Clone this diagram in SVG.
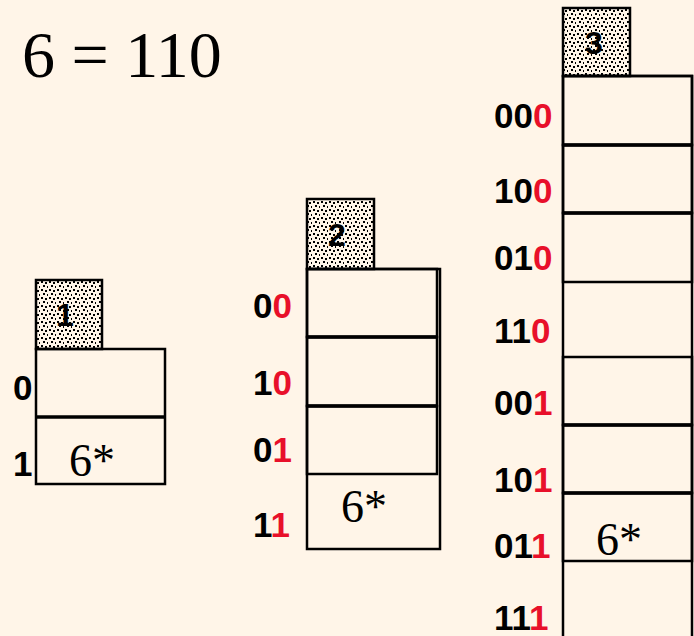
<svg xmlns="http://www.w3.org/2000/svg" width="694" height="636" viewBox="0 0 694 636">
<defs>
<pattern id="dots" width="8" height="8" patternUnits="userSpaceOnUse">
<rect width="8" height="8" fill="#FFF5E8"/>
<rect x="1" y="1" width="2" height="2" fill="#000"/>
<rect x="5" y="2" width="2" height="2" fill="#000"/>
<rect x="3" y="5" width="2" height="2" fill="#000"/>
<rect x="7" y="6" width="1.5" height="2" fill="#000"/>
</pattern>
</defs>
<style>
.bg{fill:#FFF5E8}
.tag{fill:url(#dots);stroke:#000;stroke-width:2.5}
.cell{fill:none;stroke:#000;stroke-width:2.5}
.div{fill:none;stroke:#000;stroke-width:3.5}
.lbl{font-family:"Liberation Sans",Arial,sans-serif;font-weight:bold;font-size:35px;fill:#000}
.r{fill:#E8102A}
.tnum{font-family:"Liberation Sans",Arial,sans-serif;font-weight:bold;font-size:32px;fill:#000;text-anchor:middle}
.star{font-family:"Liberation Serif","Times New Roman",serif;font-size:46px;fill:#000}
.title{font-family:"Liberation Serif","Times New Roman",serif;font-size:66px;fill:#000}
</style>
<rect class="bg" x="0" y="0" width="694" height="636"/>
<text class="title" x="22" y="77">6 = 110</text>

<g id="bucket1">
<rect class="tag" x="36" y="280" width="66" height="69"/>
<text class="tnum" x="65" y="326">1</text>
<rect class="cell" x="36" y="349" width="129" height="135"/>
<line class="div" x1="36" y1="417" x2="165" y2="417"/>
<text class="lbl" x="13" y="400">0</text>
<text class="lbl" x="13" y="476">1</text>
<text class="star" x="69" y="476">6*</text>
</g>

<g id="bucket2">
<rect class="tag" x="307" y="199" width="67" height="70"/>
<text class="tnum" x="337" y="246">2</text>
<rect class="cell" x="307" y="269" width="133" height="280"/>
<rect class="cell" x="307" y="269" width="130" height="68"/>
<rect class="cell" x="307" y="337" width="130" height="69"/>
<rect class="cell" x="307" y="406" width="130" height="68"/>
<line class="div" x1="307" y1="337" x2="437" y2="337"/>
<line class="div" x1="307" y1="406" x2="437" y2="406"/>
<text class="lbl" x="253" y="318">0<tspan class="r">0</tspan></text>
<text class="lbl" x="253" y="395">1<tspan class="r">0</tspan></text>
<text class="lbl" x="253" y="462">0<tspan class="r">1</tspan></text>
<text class="lbl" x="253" y="537">1<tspan class="r">1</tspan></text>
<text class="star" x="341" y="522">6*</text>
</g>

<g id="bucket3">
<rect class="tag" x="563" y="8" width="67" height="68"/>
<text class="tnum" x="594" y="54">3</text>
<rect class="cell" x="563" y="76" width="129" height="580"/>
<rect class="cell" x="563" y="76" width="129" height="69"/>
<rect class="cell" x="563" y="145" width="129" height="68"/>
<rect class="cell" x="563" y="213" width="129" height="69"/>
<line class="div" x1="563" y1="145" x2="692" y2="145"/>
<line class="div" x1="563" y1="213" x2="692" y2="213"/>
<rect class="cell" x="563" y="357" width="129" height="68"/>
<rect class="cell" x="563" y="425" width="129" height="68"/>
<rect class="cell" x="563" y="493" width="129" height="68"/>
<line class="div" x1="563" y1="425" x2="692" y2="425"/>
<line class="div" x1="563" y1="493" x2="692" y2="493"/>
<text class="lbl" x="494" y="128">00<tspan class="r">0</tspan></text>
<text class="lbl" x="494" y="203">10<tspan class="r">0</tspan></text>
<text class="lbl" x="494" y="270">01<tspan class="r">0</tspan></text>
<text class="lbl" x="494" y="343">11<tspan class="r">0</tspan></text>
<text class="lbl" x="494" y="415">00<tspan class="r">1</tspan></text>
<text class="lbl" x="494" y="492">10<tspan class="r">1</tspan></text>
<text class="lbl" x="494" y="558">01<tspan class="r">1</tspan></text>
<text class="lbl" x="494" y="630">11<tspan class="r">1</tspan></text>
<text class="star" x="596" y="555">6*</text>
</g>
</svg>
